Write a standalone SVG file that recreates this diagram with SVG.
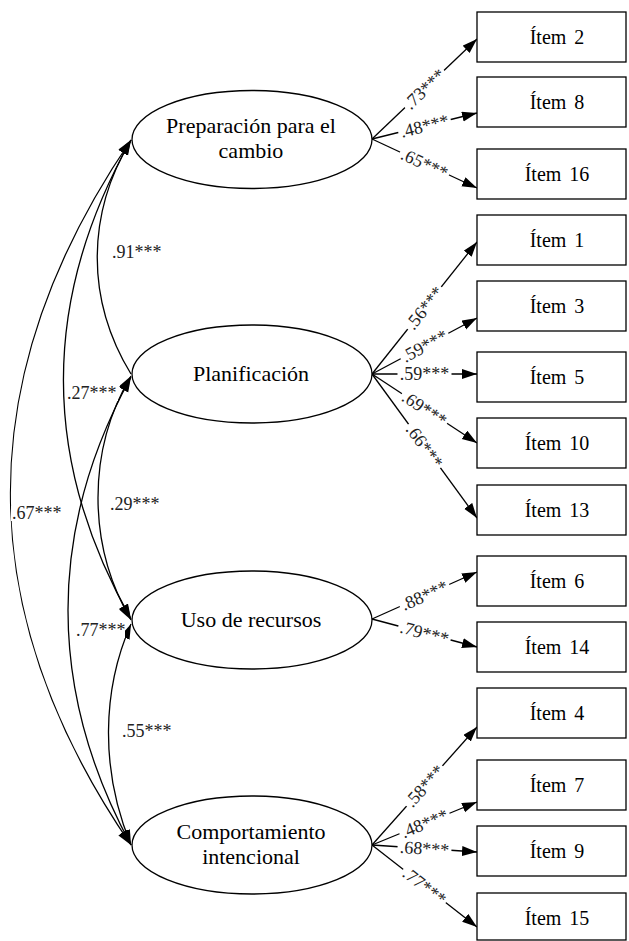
<svg xmlns="http://www.w3.org/2000/svg" width="629" height="941" viewBox="0 0 629 941">
<style>
.lat{fill:#fff;stroke:#000;stroke-width:1.3}
.box{fill:#fff;stroke:#000;stroke-width:1.3}
text{font-family:'Liberation Serif','DejaVu Serif',serif}
.t{font-size:22px;fill:#000;text-anchor:middle}
.it{font-size:20px;fill:#000;text-anchor:middle;word-spacing:3px}
.lb{font-size:18px;fill:#222}
.ld{text-anchor:middle}
.bg{fill:#fff;stroke:none}
.ln{fill:none;stroke:#000;stroke-width:1.3}
.arr{marker-end:url(#ah)}
.dbl{marker-end:url(#ah);marker-start:url(#ah)}
</style>
<defs>
<marker id="ah" markerUnits="userSpaceOnUse" markerWidth="16" markerHeight="11" refX="15" refY="5" orient="auto-start-reverse">
<path d="M0,0 L15,5 L0,10 z" fill="#000"/>
</marker>
</defs>
<rect width="629" height="941" fill="#fff"/>
<g id="connectors">
<path class="ln arr" d="M131,374 C86,300 86,215 131,140"/>
<path class="ln dbl" d="M131,140 C41,300 41,460 131,619"/>
<path class="ln dbl" d="M131,140 C-30,376 -30,610 131,845"/>
<path class="ln dbl" d="M131,376 C87,450 87,545 131,620"/>
<path class="ln dbl" d="M131,377 C47,530 47,690 131,845"/>
<path class="ln dbl" d="M131,624 C102,690 100,770 131,845"/>
<line class="ln arr" x1="372" y1="139" x2="477" y2="39"/>
<line class="ln arr" x1="372" y1="139" x2="477" y2="113"/>
<line class="ln arr" x1="372" y1="139" x2="477" y2="188"/>
<line class="ln arr" x1="372" y1="374" x2="477" y2="242"/>
<line class="ln arr" x1="372" y1="374" x2="477" y2="318"/>
<line class="ln arr" x1="372" y1="374" x2="477" y2="374"/>
<line class="ln arr" x1="372" y1="374" x2="477" y2="443"/>
<line class="ln arr" x1="372" y1="374" x2="477" y2="518"/>
<line class="ln arr" x1="372" y1="619" x2="477" y2="572"/>
<line class="ln arr" x1="372" y1="619" x2="477" y2="647"/>
<line class="ln arr" x1="372" y1="845" x2="477" y2="727"/>
<line class="ln arr" x1="372" y1="845" x2="477" y2="802"/>
<line class="ln arr" x1="372" y1="845" x2="477" y2="852"/>
<line class="ln arr" x1="372" y1="845" x2="477" y2="927"/>
<g id="corr-labels">
<rect class="bg" x="111" y="245" width="52" height="15"/><text class="lb" x="112" y="258">.91***</text>
<rect class="bg" x="66" y="386" width="52" height="15"/><text class="lb" x="67" y="399">.27***</text>
<rect class="bg" x="11" y="506" width="52" height="15"/><text class="lb" x="12" y="519">.67***</text>
<rect class="bg" x="109" y="497" width="52" height="15"/><text class="lb" x="110" y="510">.29***</text>
<rect class="bg" x="75" y="623" width="50" height="15"/><text class="lb" x="76" y="636">.77***</text>
<rect class="bg" x="121" y="724" width="52" height="15"/><text class="lb" x="122" y="737">.55***</text>
</g>
<g id="load-labels">
<g transform="translate(424.5,89) rotate(-43.6)"><rect class="bg" x="-27" y="-7" width="54" height="14"/><text class="lb ld" y="6">.73***</text></g>
<g transform="translate(424.5,126) rotate(-13.9)"><rect class="bg" x="-27" y="-7" width="54" height="14"/><text class="lb ld" y="6">.48***</text></g>
<g transform="translate(424.5,163.5) rotate(25)"><rect class="bg" x="-27" y="-7" width="54" height="14"/><text class="lb ld" y="6">.65***</text></g>
<g transform="translate(424.5,308) rotate(-51.5)"><rect class="bg" x="-27" y="-7" width="54" height="14"/><text class="lb ld" y="6">.56***</text></g>
<g transform="translate(424.5,346) rotate(-28.1)"><rect class="bg" x="-27" y="-7" width="54" height="14"/><text class="lb ld" y="6">.59***</text></g>
<g transform="translate(424.5,374)"><rect class="bg" x="-27" y="-7" width="54" height="14"/><text class="lb ld" y="6">.59***</text></g>
<g transform="translate(424.5,408.5) rotate(33.3)"><rect class="bg" x="-27" y="-7" width="54" height="14"/><text class="lb ld" y="6">.69***</text></g>
<g transform="translate(424.5,446) rotate(53.9)"><rect class="bg" x="-27" y="-7" width="54" height="14"/><text class="lb ld" y="6">.66***</text></g>
<g transform="translate(424.5,595.5) rotate(-24.1)"><rect class="bg" x="-27" y="-7" width="54" height="14"/><text class="lb ld" y="6">.88***</text></g>
<g transform="translate(424.5,633) rotate(14.9)"><rect class="bg" x="-27" y="-7" width="54" height="14"/><text class="lb ld" y="6">.79***</text></g>
<g transform="translate(424.5,786) rotate(-48.3)"><rect class="bg" x="-27" y="-7" width="54" height="14"/><text class="lb ld" y="6">.58***</text></g>
<g transform="translate(424.5,823.5) rotate(-22.3)"><rect class="bg" x="-27" y="-7" width="54" height="14"/><text class="lb ld" y="6">.48***</text></g>
<g transform="translate(424.5,848.5) rotate(3.8)"><rect class="bg" x="-27" y="-7" width="54" height="14"/><text class="lb ld" y="6">.68***</text></g>
<g transform="translate(424.5,886) rotate(38)"><rect class="bg" x="-27" y="-7" width="54" height="14"/><text class="lb ld" y="6">.77***</text></g>
</g>
</g>
<g id="f-preparacion"><ellipse class="lat" cx="252" cy="139.5" rx="120" ry="49"/><text class="t" x="251" y="133">Preparación para el</text><text class="t" x="251" y="158">cambio</text></g>
<g id="f-planificacion"><ellipse class="lat" cx="252" cy="374" rx="120" ry="49"/><text class="t" x="251" y="381">Planificación</text></g>
<g id="f-uso"><ellipse class="lat" cx="252" cy="620" rx="120" ry="49"/><text class="t" x="251" y="627">Uso de recursos</text></g>
<g id="f-comportamiento"><ellipse class="lat" cx="252" cy="845" rx="120" ry="49"/><text class="t" x="251" y="839">Comportamiento</text><text class="t" x="251" y="864">intencional</text></g>
<g id="i2"><rect class="box" x="477" y="12" width="149" height="50"/><text class="it" x="557" y="43.5">Ítem 2</text></g>
<g id="i8"><rect class="box" x="477" y="77" width="149" height="50"/><text class="it" x="557" y="108.5">Ítem 8</text></g>
<g id="i16"><rect class="box" x="477" y="149" width="149" height="50"/><text class="it" x="557" y="180.5">Ítem 16</text></g>
<g id="i1"><rect class="box" x="477" y="215" width="149" height="50"/><text class="it" x="557" y="246.5">Ítem 1</text></g>
<g id="i3"><rect class="box" x="477" y="281" width="149" height="50"/><text class="it" x="557" y="312.5">Ítem 3</text></g>
<g id="i5"><rect class="box" x="477" y="352" width="149" height="50"/><text class="it" x="557" y="383.5">Ítem 5</text></g>
<g id="i10"><rect class="box" x="477" y="418" width="149" height="50"/><text class="it" x="557" y="449.5">Ítem 10</text></g>
<g id="i13"><rect class="box" x="477" y="485" width="149" height="50"/><text class="it" x="557" y="516.5">Ítem 13</text></g>
<g id="i6"><rect class="box" x="477" y="556" width="149" height="50"/><text class="it" x="557" y="587.5">Ítem 6</text></g>
<g id="i14"><rect class="box" x="477" y="622" width="149" height="50"/><text class="it" x="557" y="653.5">Ítem 14</text></g>
<g id="i4"><rect class="box" x="477" y="688" width="149" height="50"/><text class="it" x="557" y="719.5">Ítem 4</text></g>
<g id="i7"><rect class="box" x="477" y="760" width="149" height="50"/><text class="it" x="557" y="791.5">Ítem 7</text></g>
<g id="i9"><rect class="box" x="477" y="826" width="149" height="50"/><text class="it" x="557" y="857.5">Ítem 9</text></g>
<g id="i15"><rect class="box" x="477" y="893" width="149" height="47"/><text class="it" x="557" y="924.5">Ítem 15</text></g>
</svg>
